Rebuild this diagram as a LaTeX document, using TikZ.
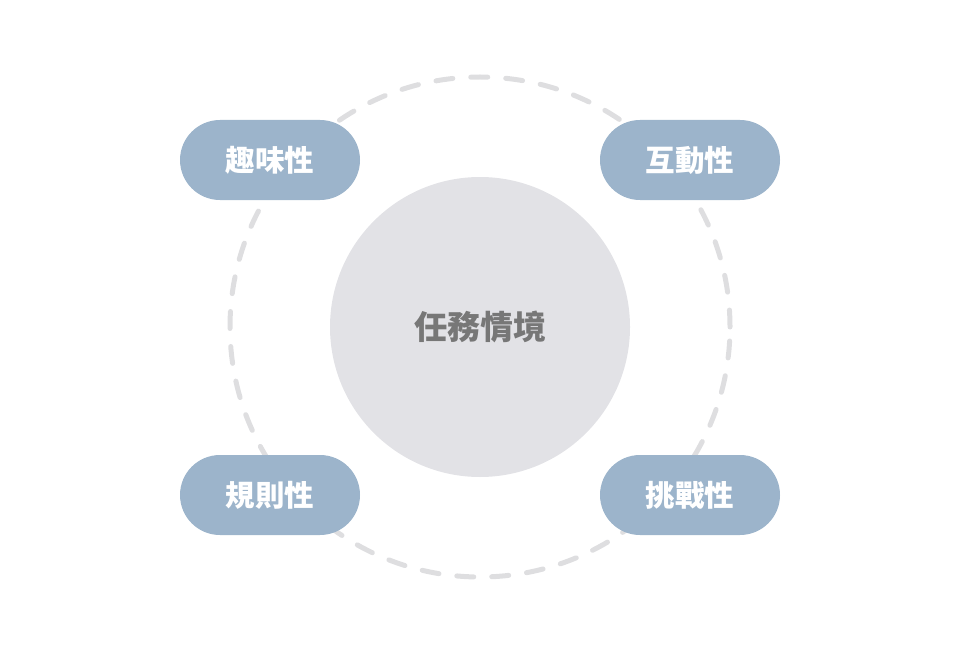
\documentclass[tikz,border=0pt]{standalone}
\usepackage{fontspec}
\newfontfamily\cjk{Noto Sans CJK TC}
\usepackage{tikz}
\usetikzlibrary{positioning}

\definecolor{pillblue}{HTML}{9CB4CB}
\definecolor{coregray}{HTML}{E2E2E6}
\definecolor{coretext}{HTML}{777777}
\definecolor{ringgray}{HTML}{DEDEE0}

\begin{document}
\begin{tikzpicture}[
        x=1pt, y=-1pt,
        ring/.style={
            circle,
            draw=ringgray,
            line width=5pt,
            line cap=round,
            dash pattern=on 17pt off 18pt,
            minimum size=500pt,
            inner sep=0pt
        },
        core/.style={
            circle,
            fill=coregray,
            text=coretext,
            font=\cjk\bfseries\fontsize{33pt}{40pt}\selectfont,
            minimum size=300pt,
            inner sep=0pt
        },
        pill/.style={
            fill=pillblue,
            text=white,
            rounded corners=40pt,
            font=\cjk\bfseries\fontsize{29.5pt}{35pt}\selectfont,
            minimum width=180pt,
            minimum height=80pt,
            inner sep=0pt
        }
    ]
        \useasboundingbox (0,0) rectangle (960,655);
        \node[ring] (ring) at (480,327) {};
        \node[core] (task) at (480,327) {任務情境};
        \node[pill] (fun) at (270,160) {趣味性};
        \node[pill] (inter) at (690,160) {互動性};
        \node[pill] (rule) at (270,495) {規則性};
        \node[pill] (chal) at (690,495) {挑戰性};
    \end{tikzpicture}
\end{document}
